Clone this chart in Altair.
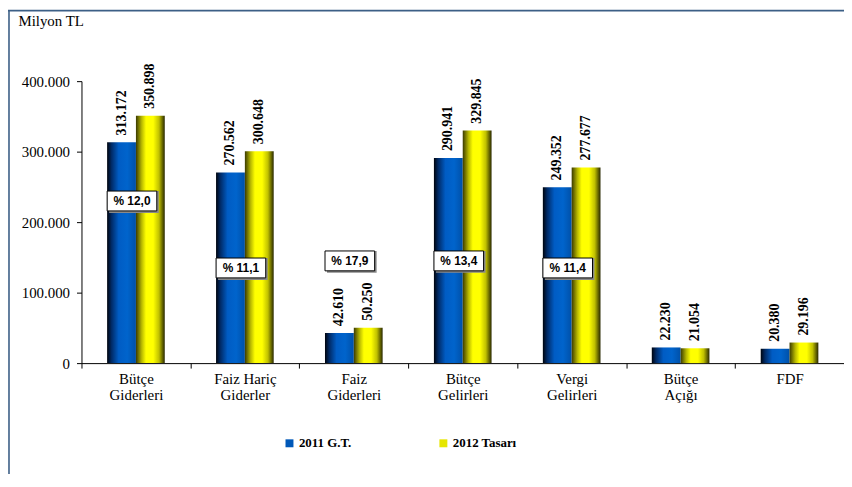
import altair as alt
import pandas as pd

categories = ["Bütçe|Giderleri", "Faiz Hariç|Giderler", "Faiz|Giderleri", "Bütçe|Gelirleri",
              "Vergi|Gelirleri", "Bütçe|Açığı", "FDF"]
series = ["2011 G.T.", "2012 Tasarı"]
v2011 = [313172, 270562, 42610, 290941, 249352, 22230, 20380]
v2012 = [350898, 300648, 50250, 329845, 277677, 21054, 29196]
pct_labels = ["% 12,0", "% 11,1", "% 17,9", "% 13,4", "% 11,4"]
pct_anchor = [230000, 135000, 145000, 145000, 135000]
y_ticks = [0, 100000, 200000, 300000, 400000]

SERIF = "Liberation Serif"
SANS = "Liberation Sans"


def fmt(v):
    return f"{v:,}".replace(",", ".")


rows = []
for c, a, b in zip(categories, v2011, v2012):
    rows.append({"cat": c, "series": series[0], "value": a, "label": fmt(a)})
    rows.append({"cat": c, "series": series[1], "value": b, "label": fmt(b)})
df = pd.DataFrame(rows)
df_box = pd.DataFrame({"cat": categories[:5], "pct": pct_labels, "pos": pct_anchor})
df_one = pd.DataFrame({"a": [0]})

blue_grad = alt.Gradient(
    gradient="linear", x1=0, x2=1, y1=0, y2=0,
    stops=[alt.GradientStop(offset=0, color="#00040c"),
           alt.GradientStop(offset=0.15, color="#002a66"),
           alt.GradientStop(offset=0.4, color="#005cc4"),
           alt.GradientStop(offset=0.7, color="#0064cc"),
           alt.GradientStop(offset=1, color="#0050a8")])
yellow_grad = alt.Gradient(
    gradient="linear", x1=0, x2=1, y1=0, y2=0,
    stops=[alt.GradientStop(offset=0, color="#3a3a00"),
           alt.GradientStop(offset=0.2, color="#b8b800"),
           alt.GradientStop(offset=0.35, color="#ffff00"),
           alt.GradientStop(offset=0.6, color="#ffff00"),
           alt.GradientStop(offset=0.8, color="#c0c000"),
           alt.GradientStop(offset=1, color="#282800")])

x_enc = alt.X("cat:N", sort=categories,
              scale=alt.Scale(paddingInner=0, paddingOuter=0),
              axis=alt.Axis(title=None, labelExpr="split(datum.label, '|')", labelAngle=0,
                            tickBand="extent", tickSize=5, labelPadding=4,
                            labelLineHeight=16, labelBaseline="top",
                            labelFont=SERIF, labelFontSize=15))
x_plain = alt.X("cat:N", sort=categories)
y_enc = alt.Y("value:Q", scale=alt.Scale(domain=[0, 400000], nice=False),
              axis=alt.Axis(values=y_ticks, grid=False, tickSize=5, labelPadding=7,
                            labelExpr="replace(format(datum.value, ','), ',', '.')",
                            labelFont=SERIF, labelFontSize=15,
                            title="Milyon TL", titleAngle=0, titleX=-64, titleY=-61,
                            titleAlign="left", titleBaseline="middle",
                            titleFont=SERIF, titleFontSize=15,
                            titleFontWeight="normal", titleColor="black"))
xoff = alt.XOffset("series:N", scale=alt.Scale(domain=series, paddingOuter=0.89, paddingInner=0))

base = alt.Chart(df)
bars_a = base.transform_filter(alt.datum.series == series[0]).mark_bar(color=blue_grad).encode(
    x=x_enc, xOffset=xoff, y=y_enc)
bars_b = base.transform_filter(alt.datum.series == series[1]).mark_bar(color=yellow_grad).encode(
    x=x_enc, xOffset=xoff, y=y_enc)
vlabels = base.mark_text(angle=270, align="left", baseline="middle", dx=7,
                         font=SERIF, fontSize=14, fontWeight="bold",
                         color="black").encode(x=x_enc, xOffset=xoff, y="value:Q", text="label:N")

boxbase = alt.Chart(df_box).transform_calculate(lo="datum.pos - 14100", hi="datum.pos + 14100")
shadow = boxbase.mark_bar(width=50, xOffset=-2, yOffset=2, color="#8a8a8a").encode(
    x=x_plain, y="lo:Q", y2="hi:Q")
box = boxbase.mark_bar(width=50, xOffset=-4, fill="white", stroke="black", strokeWidth=1).encode(
    x=x_plain, y="lo:Q", y2="hi:Q")
boxtext = boxbase.mark_text(xOffset=-4, font=SANS, fontSize=12, fontWeight="bold",
                            color="black").encode(x=x_plain, y="pos:Q", text="pct:N")

legend_layer = base.mark_square(size=0, opacity=0).encode(
    x=x_plain, y="value:Q",
    color=alt.Color("series:N", scale=alt.Scale(domain=series, range=["#0058b8", "#e6e600"]),
                    legend=alt.Legend(title=None, orient="none", legendX=203, legendY=358,
                                      direction="horizontal", columnPadding=86, padding=0,
                                      symbolType="square", symbolSize=64, symbolOpacity=1,
                                      symbolStrokeWidth=0, labelOffset=3,
                                      labelFont=SERIF, labelFontSize=13,
                                      labelFontWeight="bold", labelColor="black")))

frame_left = alt.Chart(df_one).mark_rule(color="#3c5f86", strokeWidth=1.6).encode(
    x=alt.value(-73), y=alt.value(-71), y2=alt.value(400))
frame_top = alt.Chart(df_one).mark_rule(color="#3c5f86", strokeWidth=1.6).encode(
    x=alt.value(-74), x2=alt.value(770), y=alt.value(-71))

chart = alt.layer(bars_a, bars_b, vlabels, shadow, box, boxtext, legend_layer,
                  frame_left, frame_top).properties(
    width=768, height=284,
    autosize=alt.AutoSizeParams(type="none"),
    padding={"left": 74, "top": 72, "right": 0, "bottom": 110},
).configure(font=SERIF).configure_view(stroke=None).configure_axis(
    domainColor="black", tickColor="black", labelColor="black", domainWidth=1, tickWidth=1,
    labelFont=SERIF, titleFont=SERIF
).configure_legend(labelFont=SERIF).resolve_scale(color="independent")

chart.save("out.html", embed_options={"renderer": "svg", "actions": False})
